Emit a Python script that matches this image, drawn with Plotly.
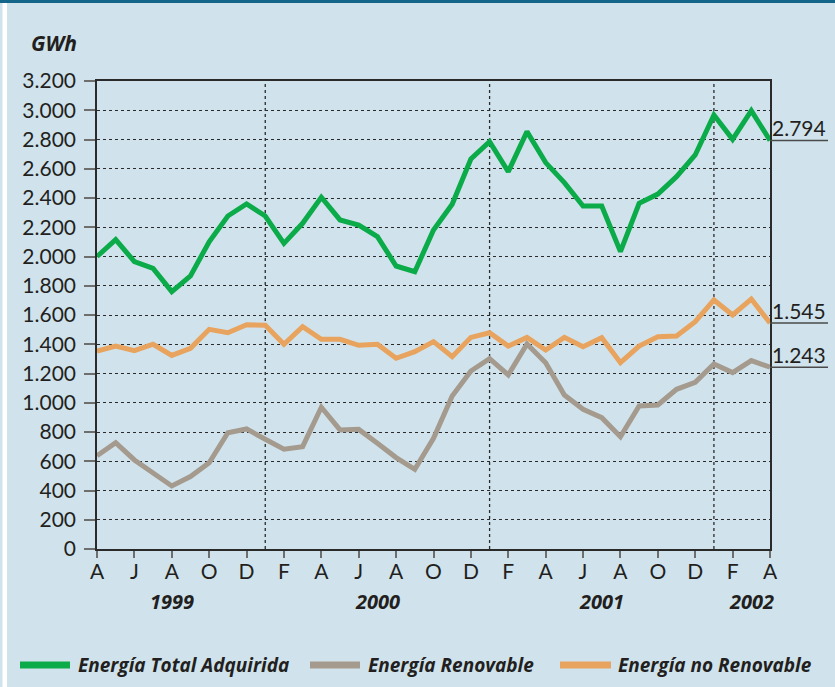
import plotly.graph_objects as go

# ---------------- data ----------------
months_idx = list(range(37))  # Apr 1999 .. Apr 2002, monthly
tick_positions = list(range(0, 37, 2))
tick_labels = ["A", "J", "A", "O", "D", "F", "A", "J", "A", "O",
               "D", "F", "A", "J", "A", "O", "D", "F", "A"]
year_labels = ["1999", "2000", "2001", "2002"]
year_label_pos = [4, 15, 27, 35]
year_boundaries = [9, 21, 33]  # January of 2000, 2001, 2002

total = [2000, 2115, 1965, 1919, 1760, 1867, 2101, 2277, 2359, 2277,
         2090, 2227, 2405, 2250, 2215, 2136, 1935, 1896, 2181, 2357,
         2667, 2785, 2580, 2854, 2642, 2505, 2345, 2345, 2033, 2364,
         2427, 2546, 2694, 2968, 2801, 2997, 2794]
no_renovable = [1354, 1388, 1356, 1400, 1324, 1372, 1502, 1479, 1534, 1530,
                1400, 1520, 1434, 1434, 1393, 1400, 1304, 1349, 1418, 1315,
                1447, 1479, 1388, 1447, 1361, 1447, 1383, 1445, 1274, 1388,
                1452, 1456, 1554, 1703, 1600, 1709, 1545]
renovable = [638, 727, 609, 517, 431, 495, 590, 795, 821, 750,
             682, 700, 969, 814, 818, 723, 625, 545, 757, 1046,
             1217, 1301, 1190, 1402, 1274, 1053, 955, 898, 768, 978,
             985, 1092, 1140, 1265, 1206, 1288, 1243]

y_tick_vals = list(range(0, 3201, 200))
y_tick_text = ["0", "200", "400", "600", "800", "1.000", "1.200", "1.400",
               "1.600", "1.800", "2.000", "2.200", "2.400", "2.600",
               "2.800", "3.000", "3.200"]

series_names = ["Energía Total Adquirida", "Energía Renovable", "Energía no Renovable"]
series_colors = ["#0bab4a", "#a59a8e", "#e8a35e"]

# ---------------- figure ----------------
W, H = 835, 687
L, R, T, B = 97, 65, 81, 138
PW, PH = W - L - R, H - T - B

def px_x(p):
    return (p - L) / PW

def px_y(p):
    return (H - B - p) / PH

FONT = "Lato, 'Open Sans', sans-serif"
BFONT = "'Open Sans', Lato, sans-serif"
TXT = "#231f20"

fig = go.Figure()
# draw order: renewable, non-renewable, total on top
for vals, color in [(renovable, series_colors[1]), (no_renovable, series_colors[2]), (total, series_colors[0])]:
    fig.add_trace(go.Scatter(x=months_idx, y=vals, mode="lines",
                             line=dict(color=color, width=5), showlegend=False,
                             hoverinfo="skip"))

shapes = []
# year boundary dotted lines
for xb in year_boundaries:
    shapes.append(dict(type="line", xref="x", yref="paper", x0=xb, x1=xb, y0=0, y1=1,
                       line=dict(color="#2a2a2a", width=1.3, dash="3px,3px"), layer="below"))

# right end value markers
annotations = []
for vals in [total, no_renovable, renovable]:
    v = vals[-1]
    shapes.append(dict(type="line", xref="paper", yref="y", x0=1, x1=px_x(828), y0=v, y1=v,
                       line=dict(color="#4a4a4a", width=1.5)))
    annotations.append(dict(xref="paper", yref="y", x=px_x(828), y=v, xanchor="right",
                            yanchor="bottom", text=f"{v:,}".replace(",", "."), showarrow=False,
                            font=dict(family=FONT, size=21, color=TXT), yshift=-2))

# year labels
for lab, pos in zip(year_labels, year_label_pos):
    annotations.append(dict(xref="x", yref="paper", x=pos, y=px_y(601), text=f"<b><i>{lab}</i></b>",
                            showarrow=False, xanchor="center", yanchor="middle",
                            font=dict(family=BFONT, size=20, color=TXT)))

# GWh label
annotations.append(dict(xref="paper", yref="paper", x=px_x(29), y=px_y(43), text="<b><i>GWh</i></b>",
                        showarrow=False, xanchor="left", yanchor="middle",
                        font=dict(family=BFONT, size=21, color=TXT)))

# legend (manual)
leg_y = px_y(665)
leg_items = [(20, 70, 76), (310, 360, 366), (560, 611, 616)]
for (x0, x1, xt), name, color in zip(leg_items, series_names, series_colors):
    shapes.append(dict(type="line", xref="paper", yref="paper", x0=px_x(x0), x1=px_x(x1),
                       y0=leg_y, y1=leg_y, line=dict(color=color, width=7)))
    annotations.append(dict(xref="paper", yref="paper", x=px_x(xt), y=leg_y, text=f"<b><i>{name}</i></b>",
                            showarrow=False, xanchor="left", yanchor="middle",
                            font=dict(family=BFONT, size=19, color=TXT)))

# top teal bar and left white stripe (page decoration)
shapes.append(dict(type="rect", xref="paper", yref="paper", x0=px_x(0), x1=px_x(W), y0=px_y(3), y1=px_y(-2),
                   fillcolor="#13658a", line=dict(width=0)))
shapes.append(dict(type="rect", xref="paper", yref="paper", x0=px_x(2.5), x1=px_x(7), y0=px_y(H + 2), y1=px_y(3),
                   fillcolor="#ffffff", line=dict(width=0)))

fig.update_layout(
    width=W, height=H,
    margin=dict(l=L, r=R, t=T, b=B),
    paper_bgcolor="#d0e3ec", plot_bgcolor="#d0e3ec",
    font=dict(family=FONT, color=TXT),
    shapes=shapes, annotations=annotations,
    showlegend=False,
    xaxis=dict(range=[0, 36], tickmode="array", tickvals=tick_positions, ticktext=tick_labels,
               showgrid=False, zeroline=False, showline=True, linecolor="#2a2a2a", linewidth=1.5,
               mirror=True, ticks="outside", ticklen=7, tickwidth=2, tickcolor="#6e6e6e",
               ticklabelstandoff=-4,
               tickfont=dict(family=FONT, size=21, color=TXT)),
    yaxis=dict(range=[0, 3200], tickmode="array", tickvals=y_tick_vals, ticktext=y_tick_text,
               showgrid=True, gridcolor="#2a2a2a", gridwidth=1.2, griddash="3px,3px",
               zeroline=False, showline=True, linecolor="#2a2a2a", linewidth=1.5, mirror=True,
               ticks="outside", ticklen=11, tickwidth=2, tickcolor="#6e6e6e",
               ticklabelstandoff=4,
               tickfont=dict(family=FONT, size=21, color=TXT)),
)

fig.write_html("out.html", config={"displayModeBar": False},
               post_script="document.body.style.margin='0';document.body.style.padding='0';")
